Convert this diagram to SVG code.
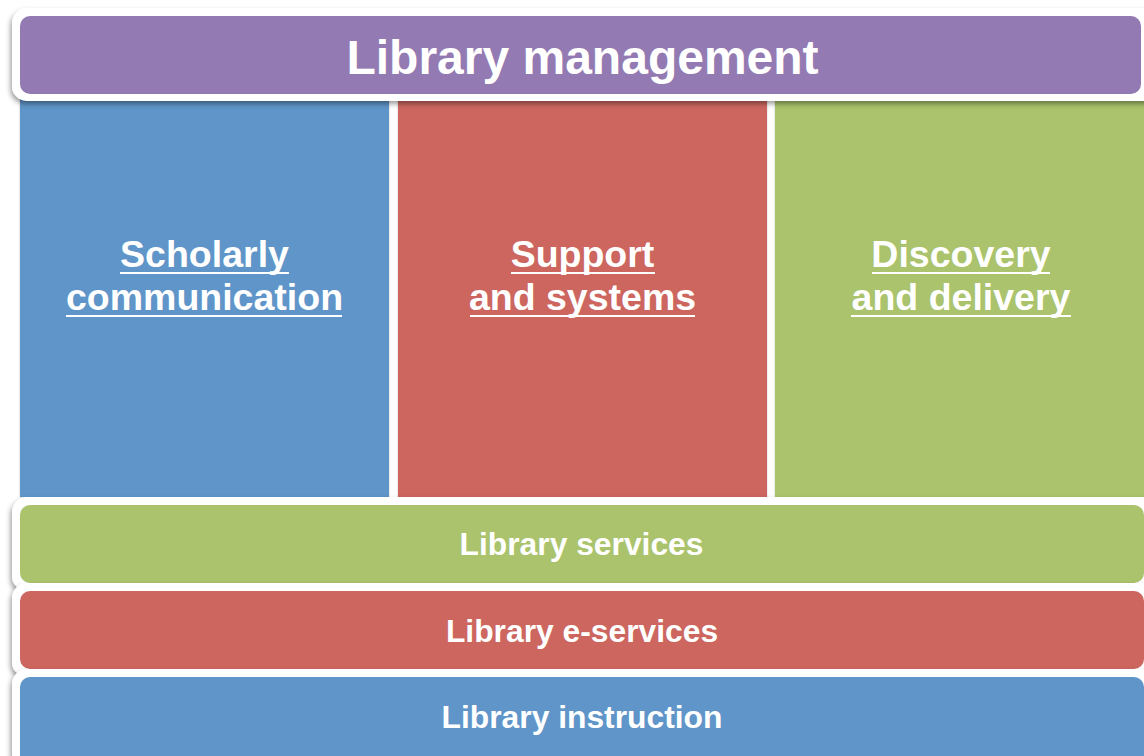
<svg xmlns="http://www.w3.org/2000/svg" width="1144" height="756" viewBox="0 0 1144 756">
  <defs>
    <filter id="sh" x="-5%" y="-20%" width="110%" height="150%">
      <feDropShadow dx="-1.5" dy="3" stdDeviation="2.5" flood-color="#000" flood-opacity="0.38"/>
    </filter>
    <filter id="shc" x="-5%" y="-5%" width="110%" height="110%">
      <feDropShadow dx="0" dy="1" stdDeviation="1" flood-color="#000" flood-opacity="0.2"/>
    </filter>
  </defs>
  <style>
    .t { font-family: "Liberation Sans", Arial, sans-serif; font-weight: bold; fill: #ffffff; text-anchor: middle; }
    .col { font-size: 37.5px; }
    .bar { font-size: 31.8px; }
    .ul { stroke: #ffffff; stroke-width: 2; }
    .frame { fill: #ffffff; }
    .blue { fill: #5F95C8; }
    .red { fill: #CC665F; }
    .green { fill: #AAC36C; }
    .purple { fill: #937AB2; }
  </style>
  <rect x="0" y="0" width="1144" height="756" fill="#ffffff"/>

  <g id="scholarly-communication">
    <rect class="blue" x="20" y="90" width="369" height="407" filter="url(#shc)"/>
    <text class="t col" x="204.5" y="267">Scholarly</text>
    <text class="t col" x="204.5" y="310">communication</text>
    <line class="ul" x1="120" y1="273" x2="289" y2="273"/>
    <line class="ul" x1="66" y1="316" x2="342" y2="316"/>
  </g>
  <g id="support-and-systems">
    <rect class="red" x="398" y="90" width="369" height="407" filter="url(#shc)"/>
    <text class="t col" x="582.5" y="267">Support</text>
    <text class="t col" x="582.5" y="310">and systems</text>
    <line class="ul" x1="511" y1="273" x2="655" y2="273"/>
    <line class="ul" x1="470" y1="316" x2="695" y2="316"/>
  </g>
  <g id="discovery-and-delivery">
    <rect class="green" x="775" y="90" width="375" height="407" filter="url(#shc)"/>
    <text class="t col" x="961" y="267">Discovery</text>
    <text class="t col" x="961" y="310">and delivery</text>
    <line class="ul" x1="872" y1="273" x2="1050" y2="273"/>
    <line class="ul" x1="851" y1="316" x2="1071" y2="316"/>
  </g>

  <g id="library-management">
    <rect class="frame" x="12" y="8" width="1150" height="93" rx="15" filter="url(#sh)"/>
    <rect class="purple" x="20" y="16" width="1121" height="78" rx="10"/>
    <text class="t" x="582.5" y="74" font-size="48">Library management</text>
  </g>

  <g id="library-services">
    <rect class="frame" x="12" y="497" width="1150" height="94" rx="15" filter="url(#sh)"/>
    <rect class="green" x="20" y="505" width="1124" height="78" rx="10"/>
    <text class="t bar" x="581.5" y="555">Library services</text>
  </g>
  <g id="library-e-services">
    <rect class="frame" x="12" y="583" width="1150" height="94" rx="15" filter="url(#sh)"/>
    <rect class="red" x="20" y="591" width="1124" height="78" rx="10"/>
    <text class="t bar" x="582" y="642">Library e-services</text>
  </g>
  <g id="library-instruction">
    <rect class="frame" x="12" y="669" width="1150" height="100" rx="15" filter="url(#sh)"/>
    <rect class="blue" x="20" y="677" width="1124" height="90" rx="10"/>
    <text class="t bar" x="582" y="728">Library instruction</text>
  </g>

  <g id="connectors"></g>
</svg>
